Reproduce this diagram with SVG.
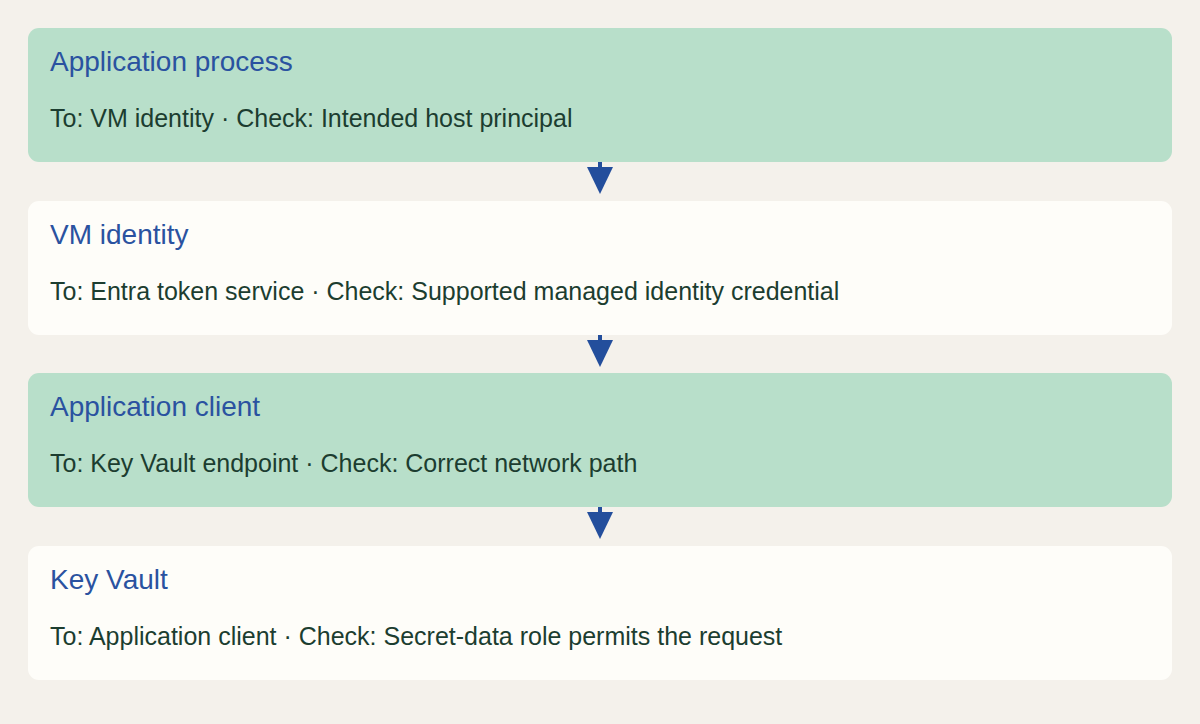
<svg xmlns="http://www.w3.org/2000/svg" width="1200" height="724" viewBox="0 0 1200 724">
<defs>
<style>
.bg{fill:#f4f1eb}
.g{fill:#b8dfca}
.w{fill:#fefdf9}
.t{font-family:"Liberation Sans",Arial,sans-serif;font-size:28px;fill:#2a52a0}
.b{font-family:"Liberation Sans",Arial,sans-serif;font-size:25px;fill:#1c3d30}
.ln{stroke:#234e9c;stroke-width:4;fill:none}
.ah{fill:#234e9c}
</style>
</defs>
<rect class="bg" x="0" y="0" width="1200" height="724"/>
<g id="node-application-process">
<rect class="g" x="28" y="28" width="1144" height="134" rx="11"/>
<text class="t" x="50" y="71">Application process</text>
<text class="b" x="50" y="127">To: VM identity · Check: Intended host principal</text>
</g>
<g id="node-vm-identity">
<rect class="w" x="28" y="201" width="1144" height="134" rx="11"/>
<text class="t" x="50" y="244">VM identity</text>
<text class="b" x="50" y="300">To: Entra token service · Check: Supported managed identity credential</text>
</g>
<g id="node-application-client">
<rect class="g" x="28" y="373" width="1144" height="134" rx="11"/>
<text class="t" x="50" y="416">Application client</text>
<text class="b" x="50" y="472">To: Key Vault endpoint · Check: Correct network path</text>
</g>
<g id="node-key-vault">
<rect class="w" x="28" y="546" width="1144" height="134" rx="11"/>
<text class="t" x="50" y="589">Key Vault</text>
<text class="b" x="50" y="645">To: Application client · Check: Secret-data role permits the request</text>
</g>
<g id="connectors">
<line class="ln" x1="600" y1="162" x2="600" y2="170"/>
<polygon class="ah" points="587,167 613,167 600,194"/>
<line class="ln" x1="600" y1="335" x2="600" y2="343"/>
<polygon class="ah" points="587,340 613,340 600,367"/>
<line class="ln" x1="600" y1="507" x2="600" y2="515"/>
<polygon class="ah" points="587,512 613,512 600,539"/>
</g>
</svg>
